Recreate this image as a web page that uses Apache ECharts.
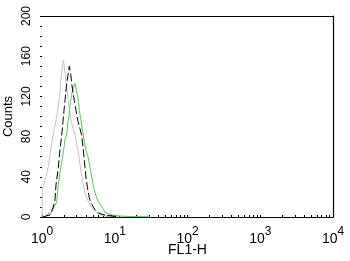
<!DOCTYPE html>
<html>
<head>
<meta charset="utf-8">
<script src="https://cdn.jsdelivr.net/npm/echarts@6/dist/echarts.min.js"></script>
<style>html,body{margin:0;padding:0;background:#fff}#c{width:350px;height:261px}</style>
</head>
<body>
<div id="c"></div>
<script>
// FL1-H channel positions (log scale) and counts
var grayX  = [1.000,1.010,1.065,1.135,1.221,1.288,1.372,1.462,1.557,1.608,1.675,1.768,1.807,1.883,1.963,2.006,2.138,2.206,2.350,2.503,2.668,2.842,3.030,3.256,3.436,3.901,4.289,4.569,4.868,5.353,5.886,6.616,7.345,9.166,11.81];
var grayY  = [0,27,33,40,50,62,75,86,96,102,110,125,134,146,156,152,135,126,110,97,88,82,70,58,45,24,16,12,9,6,3.5,2,1,0.5,0];

var blackX = [1.032,1.135,1.288,1.416,1.509,1.557,1.675,1.768,1.866,1.944,2.006,2.072,2.185,2.277,2.373,2.465,2.560,2.668,2.780,2.934,3.125,3.329,3.513,3.696,3.901,4.026,4.221,4.469,4.716,5.072,5.353,5.942,6.472,7.345,9.081,11.81];
var blackY = [0,1,2,9,17,32,49,67,81,95,106,116,133,141,150,144,133,124,116,106,95,88,81,67,49,39,29,19,14,10,7,4,3,2,1,0];

var greenX = [1.000,1.100,1.209,1.359,1.462,1.593,1.675,1.807,1.944,2.072,2.185,2.277,2.350,2.426,2.544,2.668,2.842,2.980,3.155,3.256,3.436,3.779,4.026,4.289,4.569,4.868,5.072,5.353,5.942,6.271,6.680,7.345,8.075,9.081,11.81,16.20,26.05,30.50];
var greenY = [0,0.3,3,5,10,15,32,49,62,77,82,95,101,111,121,128,133,126,116,106,96,77,66,60,49,39,31,24,15,14,10,5,3.5,2,1,0.5,0.3,0];

var yTicks = [0,40,80,120,160,200];
var xLabelValues = [1,10,100,1000,10000];

function pairs(xs, ys){ var out=[]; for(var i=0;i<xs.length;i++) out.push([xs[i], ys[i]]); return out; }
var minorX = [];
for (var d=1; d<10000; d*=10) for (var k=1;k<10;k++) minorX.push(d*k);
minorX.push(10000);

var font = 'Liberation Sans, Arial, sans-serif';
var chart = echarts.init(document.getElementById('c'), null, {renderer:'canvas'});
chart.setOption({
  animation:false,
  backgroundColor:'#fff',
  grid:{left:42,right:17,top:16,bottom:44,show:false,containLabel:false,outerBoundsMode:'none'},
  xAxis:[{
    type:'log', logBase:10, min:1, max:10000, position:'bottom',
    name:'FL1-H', nameLocation:'middle', nameGap:26, nameMoveOverlap:false,
    nameTextStyle:{fontFamily:font,fontSize:14,color:'#000'},
    axisLine:{show:true,onZero:false,lineStyle:{color:'#000',width:1.2}},
    axisTick:{show:true,inside:true,length:2,customValues:minorX,lineStyle:{color:'#000'}},
    minorTick:{show:false},
    splitLine:{show:false},
    axisLabel:{
      customValues:xLabelValues, margin:9,
      formatter:function(v){ return '{b|10}{s|' + Math.round(Math.log10(v)) + '}'; },
      rich:{
        b:{fontFamily:font,fontSize:14,color:'#000',lineHeight:20,verticalAlign:'bottom'},
        s:{fontFamily:font,fontSize:12,color:'#000',lineHeight:8,verticalAlign:'top'}
      }
    }
  },{
    type:'log', logBase:10, min:1, max:10000, position:'top',
    axisLine:{show:true,onZero:false,lineStyle:{color:'#000',width:1.2}},
    axisTick:{show:false}, axisLabel:{show:false}, splitLine:{show:false}
  }],
  yAxis:[{
    type:'value', min:0, max:200, interval:40, position:'left',
    name:'Counts', nameLocation:'middle', nameGap:27, nameRotate:90, nameMoveOverlap:false,
    nameTextStyle:{fontFamily:font,fontSize:13,color:'#000'},
    axisLine:{show:false,onZero:false},
    axisTick:{show:true,inside:false,length:2,lineStyle:{color:'#000'}},
    minorTick:{show:true,splitNumber:4,length:2,lineStyle:{color:'#000'}},
    splitLine:{show:false},
    axisLabel:{rotate:90,margin:9,fontFamily:font,fontSize:12,color:'#000'}
  },{
    type:'value', min:0, max:200, interval:40, position:'right',
    axisLine:{show:true,onZero:false,lineStyle:{color:'#000',width:1.2}},
    axisTick:{show:false}, axisLabel:{show:false}, splitLine:{show:false}
  }],
  series:[
    {type:'line', name:'gray', data:pairs(grayX,grayY), showSymbol:false, symbol:'none',
     lineStyle:{color:'#c4c4c4',width:1}},
    {type:'line', name:'green', data:pairs(greenX,greenY), showSymbol:false, symbol:'none',
     lineStyle:{color:'#5cc25c',width:1}},
    {type:'line', name:'black', data:pairs(blackX,blackY), showSymbol:false, symbol:'none',
     lineStyle:{color:'#000',width:1,type:[8,3]}}
  ]
});
</script>
</body>
</html>
